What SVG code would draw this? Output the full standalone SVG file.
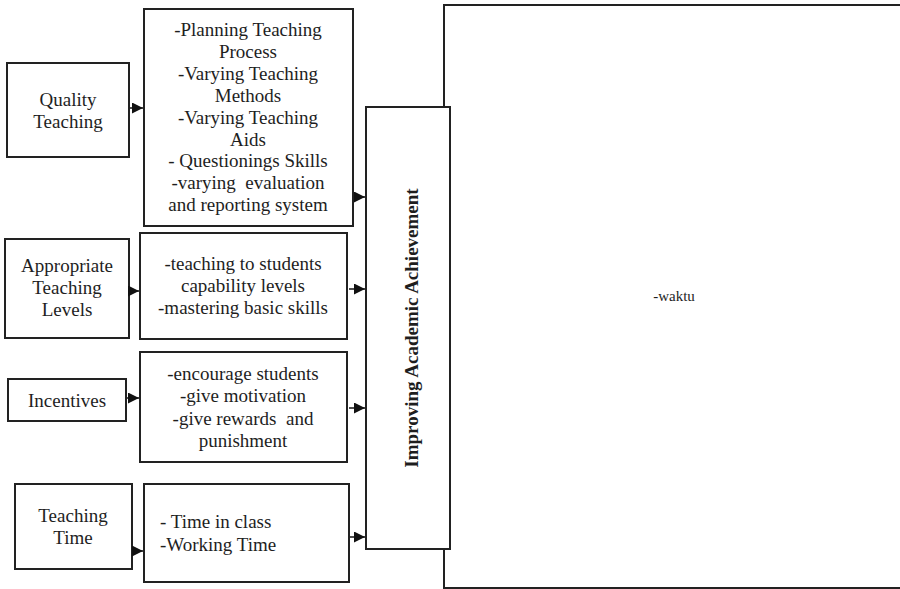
<svg xmlns="http://www.w3.org/2000/svg" width="900" height="589" viewBox="0 0 900 589">
<style>
.box{fill:#fff;stroke:#222;stroke-width:2}
.t{font-family:"Liberation Serif","Times New Roman",serif;font-size:19px;fill:#1e1e1e;text-anchor:middle}
.tl{text-anchor:start}
.b{font-weight:bold}
.c{stroke:#222;stroke-width:1.6;fill:none;marker-end:url(#ah)}
</style>
<defs>
<marker id="ah" markerUnits="userSpaceOnUse" markerWidth="11" markerHeight="11" refX="11" refY="5.5" orient="auto">
<path d="M0,0 L11,5.5 L0,11 z" fill="#111"/>
</marker>
</defs>
<rect width="900" height="589" fill="#fff"/>
<g id="waktu">
<rect class="box" x="444" y="5" width="480" height="583"/>
<text class="t" x="674" y="301" style="font-size:15px">-waktu</text>
</g>
<g id="improving">
<rect class="box" x="366" y="107" width="84" height="442"/>
<text class="t b" transform="translate(418,328) rotate(-90)">Improving Academic Achievement</text>
</g>
<g id="quality">
<rect class="box" x="7" y="63" width="122" height="94"/>
<text class="t" x="68" y="106">Quality</text>
<text class="t" x="68" y="128">Teaching</text>
</g>
<g id="quality-detail">
<rect class="box" x="144" y="9" width="209" height="217"/>
<text class="t" x="248" y="36">-Planning Teaching</text>
<text class="t" x="248" y="58">Process</text>
<text class="t" x="248" y="80">-Varying Teaching</text>
<text class="t" x="248" y="102">Methods</text>
<text class="t" x="248" y="124">-Varying Teaching</text>
<text class="t" x="248" y="146">Aids</text>
<text class="t" x="248" y="167">- Questionings Skills</text>
<text class="t" x="248" y="189" xml:space="preserve">-varying  evaluation</text>
<text class="t" x="248" y="211">and reporting system</text>
</g>
<g id="appropriate">
<rect class="box" x="5" y="239" width="124" height="99"/>
<text class="t" x="67" y="272">Appropriate</text>
<text class="t" x="67" y="294">Teaching</text>
<text class="t" x="67" y="316">Levels</text>
</g>
<g id="appropriate-detail">
<rect class="box" x="140" y="233" width="207" height="106"/>
<text class="t" x="243" y="270">-teaching to students</text>
<text class="t" x="243" y="292">capability levels</text>
<text class="t" x="243" y="314">-mastering basic skills</text>
</g>
<g id="incentives">
<rect class="box" x="8" y="379" width="118" height="42"/>
<text class="t" x="67" y="407">Incentives</text>
</g>
<g id="incentives-detail">
<rect class="box" x="140" y="352" width="207" height="110"/>
<text class="t" x="243" y="380">-encourage students</text>
<text class="t" x="243" y="402">-give motivation</text>
<text class="t" x="243" y="425" xml:space="preserve">-give rewards  and</text>
<text class="t" x="243" y="447">punishment</text>
</g>
<g id="teaching-time">
<rect class="box" x="15" y="484" width="117" height="85"/>
<text class="t" x="73" y="522">Teaching</text>
<text class="t" x="73" y="544">Time</text>
</g>
<g id="teaching-time-detail">
<rect class="box" x="144" y="484" width="205" height="98"/>
<text class="t tl" x="160" y="528">- Time in class</text>
<text class="t tl" x="160" y="551">-Working Time</text>
</g>
<g id="connectors">
<line class="c" x1="129" y1="108" x2="143" y2="108"/>
<line class="c" x1="353" y1="197" x2="365" y2="197"/>
<line class="c" x1="129" y1="291" x2="139" y2="291"/>
<line class="c" x1="349" y1="289" x2="365" y2="289"/>
<line class="c" x1="126" y1="398" x2="139" y2="398"/>
<line class="c" x1="349" y1="408" x2="365" y2="408"/>
<line class="c" x1="132" y1="551" x2="143" y2="551"/>
<line class="c" x1="350" y1="537" x2="365" y2="537"/>
</g>
</svg>
